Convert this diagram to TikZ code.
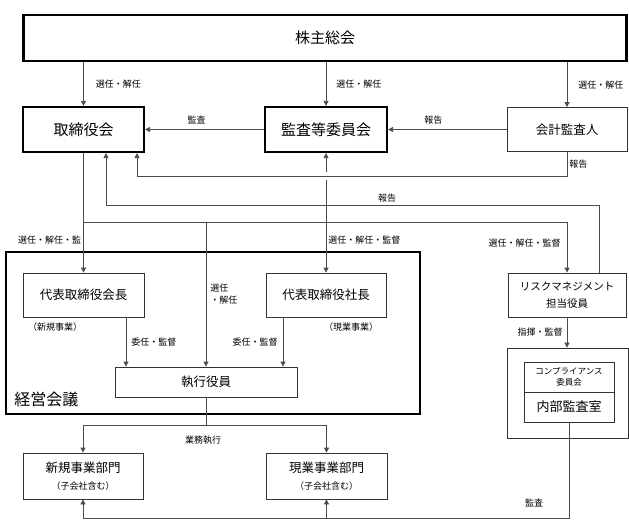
\documentclass[tikz,border=0pt]{standalone}
\usepackage{fontspec}
\setmainfont{Noto Sans CJK JP}
\usetikzlibrary{arrows.meta}

\def\busY{222}
\def\repY{176}
\def\riskY{205}
\def\jikkoY{425}
\def\kansaY{518}

\begin{document}
\begin{tikzpicture}[x=1pt, y=-1pt, line width=0.8pt,
    ln/.style={draw=black!70},
    arr/.style={draw=black!70, -{Triangle[length=5pt,width=5pt]}},
    bigbox/.style={draw, line width=2.2pt, minimum height=45pt, font=\fontsize{15}{18}\selectfont},
    box/.style={draw=black!80, line width=0.8pt, minimum height=44pt, align=center, font=\fontsize{12.5}{17}\selectfont},
    lbl/.style={font=\fontsize{9}{12}\selectfont, inner sep=2pt, align=left}]
    \useasboundingbox (0,0) rectangle (629,530);

    \node[bigbox, minimum width=603pt, minimum height=46pt] (soukai) at (325,38) {株主総会};
    \node[bigbox, minimum width=121pt] (torishimari) at (83.5,129.5) {取締役会};
    \node[bigbox, minimum width=122pt] (kansa) at (326,129.5) {監査等委員会};
    \node[box, minimum width=120pt] (kaikei) at (567,129.5) {会計監査人};

    \node[draw, line width=2.2pt, minimum width=414pt, minimum height=162pt] (keiei) at (213,333) {};
    \node[font=\fontsize{16}{18}\selectfont, anchor=west, inner sep=0pt] (keieiname) at (14,399) {経営会議};
    \node[box, minimum width=121pt] (kaicho) at (83.5,295) {代表取締役会長};
    \node[box, minimum width=120pt] (shacho) at (326,295) {代表取締役社長};
    \node[box, minimum width=182pt, minimum height=30pt] (shikko) at (206,382) {執行役員};
    \node[lbl] (kaichotag) at (55,327) {（新規事業）};
    \node[lbl] (shachotag) at (351,327) {（現業事業）};

    \node[box, minimum width=118pt, font=\fontsize{10.5}{17}\selectfont] (risk) at (567,295) {リスクマネジメント\\担当役員};
    \node[box, minimum width=121pt, minimum height=90pt] (compbox) at (567.5,393) {};
    \node[box, minimum width=90pt, minimum height=30pt, font=\fontsize{8.5}{11}\selectfont] (comp) at (569,377) {コンプライアンス\\委員会};
    \node[box, minimum width=90pt, minimum height=30pt, font=\fontsize{13}{15}\selectfont] (naibu) at (569,407) {内部監査室};

    \node[box, minimum width=120pt, minimum height=46pt] (shinki) at (83,476) {新規事業部門\\{\fontsize{9}{12}\selectfont（子会社含む）}};
    \node[box, minimum width=121pt, minimum height=46pt] (genkyo) at (326.5,476) {現業事業部門\\{\fontsize{9}{12}\selectfont（子会社含む）}};

    \draw[arr] (soukai.south -| torishimari.north) -- (torishimari.north) node[midway, right, lbl, xshift=10pt] {選任・解任};
    \draw[arr] (soukai.south -| kansa.north) -- (kansa.north) node[midway, right, lbl, xshift=8pt] {選任・解任};
    \draw[arr] (soukai.south -| kaikei.north) -- (kaikei.north) node[midway, right, lbl, xshift=9pt] {選任・解任};
    \draw[arr] (kansa.west) -- (torishimari.east) node[midway, above, lbl, xshift=-8pt, yshift=3pt] {監査};
    \draw[arr] (kaikei.west) -- (kansa.east) node[midway, above, lbl, xshift=-14pt, yshift=3pt] {報告};

    \coordinate (rep) at (137,\repY);
    \draw[arr] (kaikei.south) |- node[pos=0.25, right, lbl] {報告} (rep) -- (rep |- torishimari.south);
    \coordinate (riskrep) at (106,\riskY);
    \draw[arr] ([xshift=32pt]risk.north) |- node[pos=0.715, above, lbl] {報告} (riskrep) -- (riskrep |- torishimari.south);

    \coordinate (busL) at (83.5,\busY);
    \coordinate (busK) at (326,\busY);
    \coordinate (busR) at (567,\busY);
    \coordinate (gapA) at (326,180);
    \coordinate (gapB) at (326,172);
    \draw[ln] (busK) -- (gapA);
    \draw[arr] (gapB) -- (kansa.south);
    \draw[ln] (torishimari.south) -- (busL) -- (busR);
    \draw[arr] (busL) -- (kaicho.north) node[pos=0.35, left, lbl] {選任・解任・監};
    \draw[arr] (busK) -- (shacho.north) node[pos=0.35, right, lbl] {選任・解任・監督};
    \draw[arr] (busR) -- (risk.north) node[pos=0.41, left, lbl, xshift=-4pt] {選任・解任・監督};
    \draw[arr] (busL -| shikko.north) -- (shikko.north) node[midway, right, lbl, xshift=2pt] {選任\\・解任};

    \draw[arr] ([xshift=42.5pt]kaicho.south) -- ([xshift=42.5pt]kaicho.south |- shikko.north) node[midway, right, lbl, xshift=3pt] {委任・監督};
    \draw[arr] ([xshift=-43pt]shacho.south) -- ([xshift=-43pt]shacho.south |- shikko.north) node[midway, left, lbl, xshift=-3pt] {委任・監督};
    \draw[arr] (risk.south) -- (risk.south |- compbox.north) node[midway, left, lbl, xshift=-2pt] {指揮・監督};

    \coordinate (jikko) at (206,\jikkoY);
    \draw[arr] (shikko.south) |- (shinki.north |- jikko) -- (shinki.north);
    \draw[arr] (shikko.south) |- (genkyo.north |- jikko) -- (genkyo.north);
    \node[lbl] (jikkolbl) at (203,440) {業務執行};

    \coordinate (audit) at (569,\kansaY);
    \draw[arr] (naibu.south) |- (genkyo.south |- audit) -- (genkyo.south);
    \draw[arr] (genkyo.south |- audit) -- (shinki.south |- audit) -- (shinki.south);
    \node[lbl] (auditlbl) at (534,503) {監査};
\end{tikzpicture}
\end{document}
